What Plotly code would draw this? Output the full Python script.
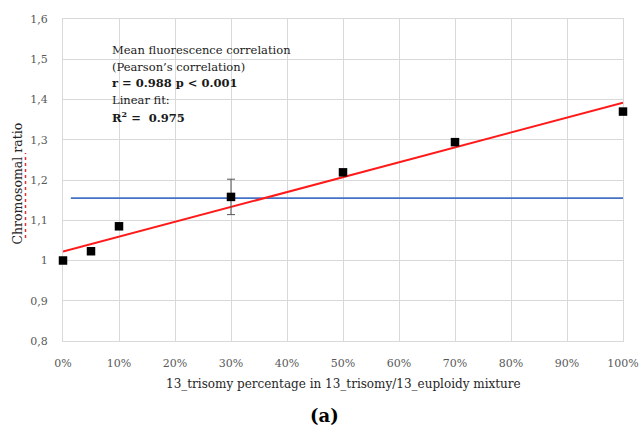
import plotly.graph_objects as go

# Data
pct = [0, 5, 10, 30, 50, 70, 100]
ratio = [1.000, 1.023, 1.085, 1.158, 1.219, 1.294, 1.370]
err_pct = [30]
err_ratio = [1.158]
err_val = [0.044]
fit_x = [0, 100]
fit_y = [1.022, 1.392]
ref_x = [1.4, 100.2]
ref_y = [1.155, 1.155]
y_ticks = [0.8, 0.9, 1.0, 1.1, 1.2, 1.3, 1.4, 1.5, 1.6]
y_ticktext = ["0,8", "0,9", "1", "1,1", "1,2", "1,3", "1,4", "1,5", "1,6"]
x_ticks = [0, 10, 20, 30, 40, 50, 60, 70, 80, 90, 100]
x_ticktext = [f"{v}%" for v in x_ticks]
note_lines = [
    "Mean fluorescence correlation",
    "(Pearson’s correlation)",
    "<b>r = 0.988 p &lt; 0.001</b>",
    "Linear fit:",
    "<b>R<sup>2</sup> =  0.975</b>",
]
note_y = [1.523, 1.481, 1.441, 1.399, 1.357]

FONT = "DejaVu Serif"
W, H = 639, 428
L, R, T, B = 63, 16, 19, 87
fig = go.Figure()

fig.add_trace(go.Scatter(x=ref_x, y=ref_y, mode="lines",
                         line=dict(color="#4472C4", width=1.6),
                         cliponaxis=False, hoverinfo="skip"))
fig.add_trace(go.Scatter(x=fit_x, y=fit_y, mode="lines",
                         line=dict(color="#FF1A1A", width=2),
                         cliponaxis=False, hoverinfo="skip"))
fig.add_trace(go.Scatter(x=err_pct, y=err_ratio, mode="markers",
                         marker=dict(symbol="square", size=8, color="black", opacity=0),
                         error_y=dict(type="data", array=err_val, visible=True,
                                      color="#555555", thickness=1, width=4),
                         cliponaxis=False, hoverinfo="skip"))
fig.add_trace(go.Scatter(x=pct, y=ratio, mode="markers",
                         marker=dict(symbol="square", size=8.5, color="black"),
                         cliponaxis=False))

fig.update_layout(
    width=W, height=H,
    margin=dict(l=L, r=R, t=T, b=B, autoexpand=False),
    paper_bgcolor="white", plot_bgcolor="white",
    showlegend=False,
    font=dict(family=FONT, size=11, color="#595959"),
)

for txt, yv in zip(note_lines, note_y):
    fig.add_annotation(
        x=8.4, y=yv, xref="x", yref="y", xanchor="left", yanchor="middle",
        showarrow=False, align="left", text=txt,
        font=dict(family=FONT, size=11.5, color="#1a1a1a"),
    )

# x axis title
fig.add_annotation(
    x=0.5, y=1 - (384 - T) / (H - T - B), xref="paper", yref="paper",
    xanchor="center", yanchor="middle", showarrow=False,
    text="13_trisomy percentage in 13_trisomy/13_euploidy mixture",
    font=dict(family=FONT, size=12, color="#262626"),
)
# y axis title
fig.add_annotation(
    x=(17 - L) / (W - L - R), y=1 - (183.5 - T) / (H - T - B),
    xref="paper", yref="paper", xanchor="center", yanchor="middle",
    showarrow=False, textangle=-90, text="Chromosomal ratio",
    font=dict(family=FONT, size=12.5, color="#262626"),
)
# spell-check squiggle look under "Chromosomal"
fig.add_shape(type="line", xref="paper", yref="paper",
              x0=(25.5 - L) / (W - L - R), x1=(25.5 - L) / (W - L - R),
              y0=1 - (238 - T) / (H - T - B), y1=1 - (153 - T) / (H - T - B),
              line=dict(color="#E03030", width=1.5, dash="dot"))
# panel label
fig.add_annotation(
    x=(324 - L) / (W - L - R), y=1 - (415 - T) / (H - T - B),
    xref="paper", yref="paper", xanchor="center", yanchor="middle",
    showarrow=False, text="<b>(a)</b>",
    font=dict(family=FONT, size=18, color="black"),
)

fig.update_xaxes(range=[0, 100], tickvals=x_ticks, ticktext=x_ticktext,
                 showgrid=True, gridcolor="#D9D9D9", gridwidth=1,
                 showline=True, linecolor="#D9D9D9", mirror=True, layer="below traces",
                 zeroline=False, ticks="", ticklabelstandoff=12, automargin=False)
fig.update_yaxes(range=[0.8, 1.6], tickvals=y_ticks, ticktext=y_ticktext,
                 showgrid=True, gridcolor="#D9D9D9", gridwidth=1,
                 showline=True, linecolor="#D9D9D9", mirror=True, layer="below traces",
                 zeroline=False, ticks="", ticklabelstandoff=12, automargin=False)

fig.write_html("out.html")
